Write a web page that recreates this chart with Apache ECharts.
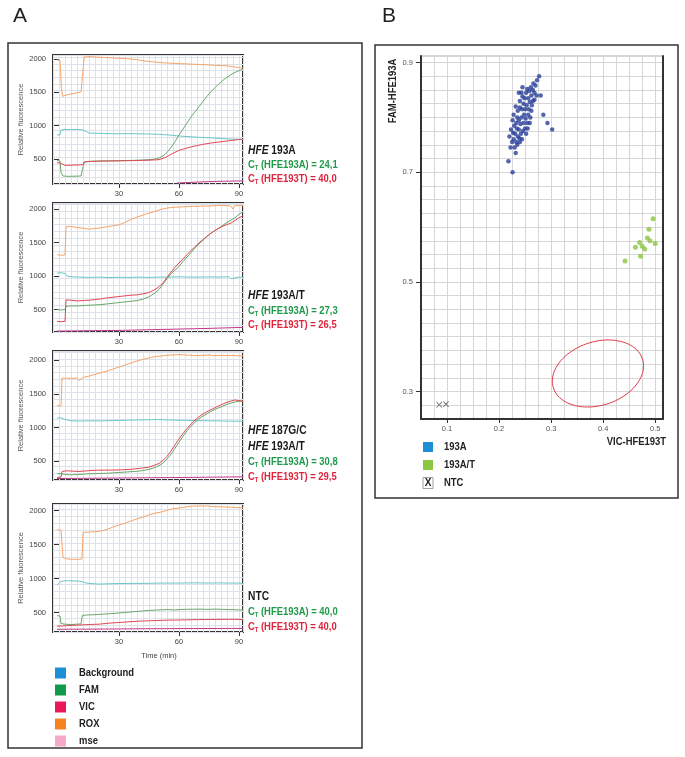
<!DOCTYPE html>
<html><head><meta charset="utf-8">
<script src="https://cdn.jsdelivr.net/npm/echarts@6/dist/echarts.min.js"></script>
<style>html,body{margin:0;padding:0;background:#fff}#c{width:685px;height:757px}</style>
</head><body><div id="c"></div>
<script>
// ---------- Panel A data: [time (min), relative fluorescence] ----------
const rox1 = [[-1,1985],[0.5,1980],[1.2,1560],[1.8,1440],[3,1455],[5,1470],[7,1480],[9,1495],[11,1505],[12,1515],[12.6,2030],[15,2035],[18,2030],[21,2025],[24,2020],[27,2015],[30,2010],[33,2005],[36,1998],[39,1990],[42,1975],[45,1962],[48,1955],[51,1945],[54,1940],[57,1935],[60,1930],[63,1928],[66,1922],[69,1920],[72,1915],[75,1912],[78,1905],[81,1900],[84,1898],[87,1885],[90,1870],[92,1862]];
const bg1 = [[-1,860],[0.5,862],[1,935],[3,945],[6,940],[9,945],[12,935],[13,905],[15,890],[20,885],[25,880],[30,878],[35,880],[40,878],[45,875],[50,870],[55,860],[60,845],[65,835],[70,825],[75,820],[80,810],[85,800],[90,795],[92,792]];
const fam1 = [[-1,475],[0.5,470],[1,300],[2,245],[5,240],[8,242],[11,245],[12,250],[12.6,455],[15,465],[20,470],[25,472],[30,475],[35,478],[40,482],[45,490],[48,500],[50,515],[52,545],[54,600],[56,670],[58,760],[60,860],[62,950],[64,1040],[66,1130],[68,1210],[70,1285],[72,1365],[74,1440],[76,1510],[78,1570],[80,1630],[82,1680],[84,1725],[86,1765],[88,1800],[90,1825],[92,1845]];
const vic1 = [[-1,445],[0.5,440],[1,415],[3,405],[6,408],[9,410],[12,415],[12.6,455],[15,462],[20,468],[25,470],[30,472],[35,475],[40,478],[45,482],[50,490],[53,520],[56,570],[60,630],[64,665],[68,695],[72,720],[76,740],[80,755],[84,770],[88,785],[92,800]];
const mse1 = [[59,140],[65,148],[70,155],[75,160],[80,165],[85,168],[92,172]];

const rox2 = [[-1,1320],[1,1310],[3,1315],[3.5,1735],[6,1740],[9,1725],[12,1715],[15,1700],[18,1710],[21,1720],[24,1735],[27,1750],[30,1765],[33,1800],[36,1845],[39,1880],[42,1910],[45,1940],[48,1965],[51,1995],[54,2015],[57,2025],[60,2030],[63,2035],[66,2040],[69,2040],[72,2045],[75,2045],[78,2050],[81,2055],[84,2052],[86,2040],[87,2000],[88,2050],[90,2055],[92,2050]];
const bg2 = [[-1,1045],[1,1050],[3,1040],[4,1000],[6,990],[10,985],[15,980],[20,985],[25,978],[30,982],[35,980],[40,985],[45,980],[50,985],[55,985],[60,990],[65,985],[70,985],[75,988],[80,985],[85,990],[86,960],[87,975],[90,985],[92,985]];
const fam2 = [[-1,500],[1,495],[3,500],[3.5,550],[6,555],[9,555],[12,560],[15,565],[18,570],[21,575],[24,585],[27,595],[30,605],[33,615],[36,625],[39,635],[42,655],[45,690],[48,750],[50,800],[52,880],[54,960],[56,1035],[58,1090],[60,1145],[62,1215],[64,1285],[66,1350],[68,1420],[70,1480],[72,1535],[74,1590],[76,1640],[78,1680],[80,1715],[82,1760],[84,1800],[86,1835],[88,1870],[90,1920],[92,1960]];
const vic2 = [[-1,325],[1,320],[3,325],[3.5,645],[6,640],[9,630],[12,635],[15,640],[18,650],[21,660],[24,675],[27,685],[30,695],[33,705],[36,715],[39,720],[42,735],[45,755],[48,800],[50,840],[52,900],[54,980],[56,1060],[58,1130],[60,1195],[62,1255],[64,1320],[66,1380],[68,1440],[70,1495],[72,1545],[74,1595],[76,1640],[78,1680],[80,1715],[82,1745],[84,1770],[86,1790],[88,1830],[90,1870],[92,1900]];
const mse2 = [[-1,180],[15,185],[30,190],[45,200],[60,210],[75,220],[92,235]];

const rox3 = [[-1,1330],[1,1320],[1.5,1735],[4,1735],[7,1730],[9,1740],[10,1700],[11,1705],[12,1745],[15,1765],[18,1790],[21,1815],[24,1840],[27,1870],[30,1900],[33,1930],[36,1960],[39,1990],[42,2015],[45,2035],[48,2055],[51,2065],[54,2075],[57,2080],[60,2085],[63,2080],[66,2075],[69,2070],[72,2075],[75,2080],[78,2070],[81,2075],[84,2070],[87,2072],[90,2068],[92,2070]];
const bg3 = [[-1,1140],[1,1145],[3,1120],[6,1100],[10,1095],[15,1100],[20,1098],[25,1102],[30,1105],[35,1110],[40,1112],[45,1115],[50,1118],[55,1112],[60,1108],[65,1105],[70,1102],[75,1100],[80,1098],[85,1095],[90,1092],[92,1095]];
const fam3 = [[-1,315],[1,310],[2,290],[5,295],[10,300],[15,310],[20,315],[25,320],[30,330],[35,340],[40,350],[45,375],[48,405],[50,430],[52,470],[54,530],[56,600],[58,690],[60,780],[62,870],[64,950],[66,1020],[68,1080],[70,1130],[72,1170],[74,1205],[76,1240],[78,1270],[80,1295],[82,1320],[84,1345],[86,1365],[88,1380],[90,1390],[92,1392]];
const vic3 = [[-1,255],[1,260],[1.5,345],[4,355],[7,350],[10,345],[13,352],[16,360],[20,365],[25,365],[30,368],[35,375],[40,390],[45,410],[48,440],[50,465],[52,510],[54,570],[56,650],[58,740],[60,830],[62,910],[64,985],[66,1050],[68,1110],[70,1160],[72,1200],[74,1235],[76,1265],[78,1295],[80,1325],[82,1350],[84,1375],[86,1395],[88,1410],[90,1400],[92,1395]];
const mse3 = [[-1,240],[20,245],[40,250],[60,255],[92,265]];

const rox4 = [[-1,1720],[1,1715],[2,1310],[4,1290],[7,1285],[10,1285],[11.5,1290],[12,1680],[15,1685],[18,1690],[21,1700],[24,1725],[27,1760],[30,1790],[33,1815],[36,1850],[39,1880],[42,1905],[45,1940],[48,1965],[51,1980],[54,2005],[57,2030],[60,2040],[63,2055],[66,2065],[69,2070],[72,2070],[75,2068],[78,2060],[81,2058],[84,2055],[87,2050],[90,2045],[92,2042]];
const bg4 = [[-1,905],[1,960],[3,970],[6,968],[9,965],[11,960],[13,940],[15,930],[20,920],[25,925],[30,928],[35,930],[40,930],[45,932],[50,935],[55,935],[60,935],[65,938],[70,938],[75,935],[80,938],[85,935],[90,935],[92,932]];
const fam4 = [[-1,455],[0.5,450],[1,340],[3,330],[6,325],[9,330],[11,335],[11.7,460],[14,465],[18,470],[22,478],[26,485],[30,495],[34,505],[38,515],[42,525],[46,535],[50,540],[54,545],[58,540],[62,548],[66,550],[70,552],[74,548],[78,552],[82,548],[86,545],[90,540],[92,538]];
const vic4 = [[-1,300],[5,310],[10,318],[15,325],[20,330],[25,345],[30,355],[35,365],[40,375],[45,380],[50,385],[55,390],[60,392],[65,395],[70,398],[75,400],[80,400],[85,402],[90,400],[92,398]];
const mse4 = [[-1,255],[20,258],[40,262],[60,265],[92,268]];

const timeTicks = [30, 60, 90];
const fluoTicks = [500, 1000, 1500, 2000];
const legendA = ['Background', 'FAM', 'VIC', 'ROX', 'mse'];
const annotations = [
  [['HFE', '193A']],
  [['HFE', '193A/T']],
  [['HFE', '187G/C'], ['HFE', '193A/T']],
  [['', 'NTC']]
];
const ctA = ['24,1', '27,3', '30,8', '40,0'];
const ctT = ['40,0', '26,5', '29,5', '40,0'];

// ---------- Panel B data: [VIC-HFE193T, FAM-HFE193A] ----------
const pts193A = [[0.218,0.720],[0.226,0.700],[0.222,0.745],[0.225,0.755],[0.220,0.765],[0.228,0.760],[0.230,0.745],[0.232,0.735],[0.235,0.750],[0.223,0.778],[0.227,0.772],[0.231,0.770],[0.236,0.765],[0.238,0.778],[0.229,0.785],[0.233,0.790],[0.240,0.755],[0.242,0.770],[0.244,0.760],[0.246,0.775],[0.235,0.800],[0.238,0.795],[0.241,0.788],[0.243,0.800],[0.247,0.790],[0.250,0.780],[0.252,0.770],[0.248,0.805],[0.251,0.798],[0.254,0.790],[0.256,0.805],[0.236,0.812],[0.240,0.818],[0.244,0.815],[0.247,0.825],[0.250,0.815],[0.253,0.822],[0.257,0.815],[0.260,0.800],[0.262,0.812],[0.240,0.830],[0.245,0.838],[0.249,0.835],[0.252,0.845],[0.256,0.835],[0.259,0.828],[0.262,0.840],[0.265,0.830],[0.238,0.845],[0.254,0.852],[0.258,0.848],[0.261,0.855],[0.265,0.850],[0.268,0.845],[0.270,0.858],[0.273,0.868],[0.277,0.875],[0.266,0.862],[0.243,0.845],[0.232,0.820],[0.228,0.805],[0.226,0.795],[0.234,0.780],[0.255,0.780],[0.259,0.790],[0.263,0.822],[0.268,0.832],[0.272,0.840],[0.285,0.805],[0.293,0.790],[0.302,0.778],[0.280,0.840],[0.245,0.855],[0.239,0.762],[0.233,0.755]];
const pts193AT = [[0.496,0.615],[0.488,0.596],[0.470,0.572],[0.490,0.575],[0.500,0.570],[0.462,0.563],[0.480,0.560],[0.475,0.565],[0.472,0.547],[0.442,0.538],[0.485,0.580]];
const ptsNTC = [[0.085,0.276],[0.098,0.277]];
const ntcEllipse = [[0.39, 0.333, 0.09, 0.058, 18]]; // centre x, centre y, semi-axis x, semi-axis y, tilt (deg)
const vicTicks = [0.1, 0.2, 0.3, 0.4, 0.5];
const famTicks = [0.3, 0.5, 0.7, 0.9];
const legendB = ['193A', '193A/T', 'NTC'];

// ---------- build ----------
const FONT = "'Liberation Sans', Arial, sans-serif";
const NX = 0.82; // horizontal squeeze to mimic the narrow typeface
const lineColors = {bg:'#6cc6c8', fam:'#6aa86c', vic:'#df4a58', rox:'#f5a56c', mse:'#c2388c'};
const legendColors = ['#1e8fd6', '#0f9a4c', '#e8185a', '#f5841f', '#f5aacb'];
const GREEN = '#1f9a4a', RED = '#e0243c';
const GRIDLINE = '#dde2ea';
const TICKFONT = 7.5;

const plots = [
  {top:55, height:129, min:125, max:2060, s:{rox:rox1, bg:bg1, fam:fam1, vic:vic1, mse:mse1}},
  {top:203, height:129, min:166, max:2090, s:{rox:rox2, bg:bg2, fam:fam2, vic:vic2, mse:mse2}},
  {top:351, height:129, min:218, max:2139, s:{rox:rox3, bg:bg3, fam:fam3, vic:vic3, mse:mse3}},
  {top:504, height:128, min:215, max:2099, s:{rox:rox4, bg:bg4, fam:fam4, vic:vic4, mse:mse4}}
];

const grid = [], xAxis = [], yAxis = [], series = [], graphic = [];
const hiddenX = [], hiddenY = [];
plots.forEach((p, i) => {
  grid.push({left:53, top:p.top, width:190, height:p.height, show:true, borderColor:'#333', borderWidth:2, backgroundColor:'#fff'});
  xAxis.push({type:'value', gridIndex:i, min:-3, max:92,
    axisLine:{show:false},
    axisTick:{show:true, customValues:timeTicks, length:4, lineStyle:{color:'#333'}},
    axisLabel:{customValues:timeTicks, fontSize:TICKFONT, color:'#444', margin:6, fontFamily:FONT},
    splitLine:{show:false}});
  yAxis.push({type:'value', gridIndex:i, min:p.min, max:p.max,
    name:'Relative fluorescence', nameLocation:'middle', nameGap:27, nameRotate:90,
    nameTextStyle:{fontSize:TICKFONT, color:'#555', fontFamily:FONT},
    axisLine:{show:false},
    axisTick:{show:true, customValues:fluoTicks, length:5, lineStyle:{color:'#333'}},
    axisLabel:{customValues:fluoTicks, fontSize:TICKFONT, color:'#444', margin:7, fontFamily:FONT, formatter:v=>String(v)},
    splitLine:{show:false}});
  // dense background grid
  hiddenX.push({type:'value', gridIndex:i, position:'top', min:-3, max:92, interval:3,
    axisLine:{show:false}, axisTick:{show:false}, axisLabel:{show:false},
    splitLine:{show:true, lineStyle:{color:GRIDLINE, width:1}}});
  hiddenY.push({type:'value', gridIndex:i, position:'right', min:p.min, max:p.max, interval:100,
    axisLine:{show:false}, axisTick:{show:false}, axisLabel:{show:false},
    splitLine:{show:true, lineStyle:{color:GRIDLINE, width:1}}});
  ['rox','bg','fam','vic','mse'].forEach(k => {
    series.push({type:'line', xAxisIndex:i, yAxisIndex:i, data:p.s[k], showSymbol:false, symbol:'none',
      lineStyle:{color:lineColors[k], width:1}, clip:true, silent:true, animation:false, z:3});
  });
});

// Panel B
const gB = plots.length;
const bX = {min:0.05, max:0.515}, bY = {min:0.25, max:0.912};
grid.push({left:421, top:56, width:242, height:363, show:true, borderColor:'#aaa', borderWidth:1, backgroundColor:'#fff'});
xAxis.push({type:'value', gridIndex:gB, min:bX.min, max:bX.max,
  axisLine:{show:true, onZero:false, lineStyle:{color:'#333', width:2}},
  axisTick:{show:true, customValues:vicTicks, length:4, lineStyle:{color:'#333'}},
  axisLabel:{customValues:vicTicks, fontSize:TICKFONT, color:'#555', margin:6, fontFamily:FONT, formatter:v=>v.toFixed(1)},
  splitLine:{show:false}});
yAxis.push({type:'value', gridIndex:gB, min:bY.min, max:bY.max,
  axisLine:{show:true, onZero:false, lineStyle:{color:'#333', width:2}},
  axisTick:{show:true, customValues:famTicks, length:5, lineStyle:{color:'#333'}},
  axisLabel:{customValues:famTicks, fontSize:TICKFONT, color:'#555', margin:8, fontFamily:FONT, formatter:v=>v.toFixed(1)},
  splitLine:{show:false}});
hiddenX.push({type:'value', gridIndex:gB, position:'top', min:bX.min, max:bX.max, interval:0.025,
  axisLine:{show:false}, axisTick:{show:false}, axisLabel:{show:false},
  splitLine:{show:true, lineStyle:{color:'#d6d6d6', width:1}}});
hiddenY.push({type:'value', gridIndex:gB, position:'right', min:bY.min, max:bY.max, interval:0.025,
  axisLine:{show:true, onZero:false, lineStyle:{color:'#333', width:2}}, axisTick:{show:false}, axisLabel:{show:false},
  splitLine:{show:true, lineStyle:{color:'#d6d6d6', width:1}}});

xAxis.push(...hiddenX);
yAxis.push(...hiddenY);

series.push({type:'scatter', xAxisIndex:gB, yAxisIndex:gB, data:pts193A, symbolSize:4.5,
  itemStyle:{color:'#2b3f99'}, animation:false, z:4});
series.push({type:'scatter', xAxisIndex:gB, yAxisIndex:gB, data:pts193AT, symbolSize:5,
  itemStyle:{color:'#8dc63f'}, animation:false, z:4});
series.push({type:'scatter', xAxisIndex:gB, yAxisIndex:gB, data:ptsNTC, symbolSize:6,
  symbol:'path://M0,1 L1,0 L5,4 L9,0 L10,1 L6,5 L10,9 L9,10 L5,6 L1,10 L0,9 L4,5 Z',
  itemStyle:{color:'#444'}, animation:false, z:4});
series.push({type:'custom', xAxisIndex:gB, yAxisIndex:gB, data:ntcEllipse, animation:false, silent:true, z:4,
  renderItem:(params, api) => {
    const c = api.coord([api.value(0), api.value(1)]);
    const rx = api.size([api.value(2), 0])[0];
    const ry = api.size([0, api.value(3)])[1];
    const th = api.value(4) * Math.PI / 180;
    const pts = [];
    for (let k = 0; k <= 90; k++) {
      const t = k / 90 * 2 * Math.PI;
      const ex = rx * Math.cos(t), ey = ry * Math.sin(t);
      pts.push([c[0] + ex * Math.cos(th) - ey * Math.sin(th), c[1] - (ex * Math.sin(th) + ey * Math.cos(th))]);
    }
    return {type:'polyline', shape:{points:pts}, style:{fill:'none', stroke:'#e23a46', lineWidth:1}};
  }});

// ---------- static graphics: frames, labels, legends ----------
graphic.push({type:'rect', shape:{x:8, y:43, width:354, height:705}, style:{fill:'none', stroke:'#333', lineWidth:1.5}, z:-1});
graphic.push({type:'rect', shape:{x:375, y:45, width:303, height:453}, style:{fill:'none', stroke:'#333', lineWidth:1.5}, z:-1});
graphic.push({type:'text', x:13, y:6, style:{text:'A', font:'21px '+FONT, fill:'#222'}});
graphic.push({type:'text', x:382, y:6, style:{text:'B', font:'21px '+FONT, fill:'#222'}});

const annY = [[151,165,179],[296,311,325],[431,447,462,477],[597,612,627]];
annotations.forEach((lines, i) => {
  const ys = annY[i];
  lines.forEach((ln, j) => {
    graphic.push({type:'text', x:248, y:ys[j], scaleX:NX, style:{
      text: ln[0] ? '{i|' + ln[0] + '} {b|' + ln[1] + '}' : '{b|' + ln[1] + '}',
      verticalAlign:'middle',
      rich:{i:{fontFamily:FONT, fontSize:12.5, fontWeight:'bold', fontStyle:'italic', fill:'#1a1a1a'},
            b:{fontFamily:FONT, fontSize:12.5, fontWeight:'bold', fill:'#1a1a1a'}}}});
  });
  const n = lines.length;
  [[ys[n], 'HFE193A', ctA[i], GREEN], [ys[n+1], 'HFE193T', ctT[i], RED]].forEach(([y, g, v, col]) => {
    graphic.push({type:'text', x:248, y:y, scaleX:NX, style:{
      text:'{c|C}{s|T}{c| (' + g + ') = ' + v + '}', verticalAlign:'middle',
      rich:{c:{fontFamily:FONT, fontSize:11.5, fontWeight:'bold', fill:col, lineHeight:13},
            s:{fontFamily:FONT, fontSize:7, fontWeight:'bold', fill:col, lineHeight:13, verticalAlign:'bottom', padding:[5,0,0,0]}}}});
  });
});

graphic.push({type:'text', x:159, y:656, style:{text:'Time (min)', font:TICKFONT+'px '+FONT, fill:'#444', align:'center', verticalAlign:'middle'}});
legendA.forEach((name, i) => {
  const y = 673 + i * 17;
  graphic.push({type:'rect', shape:{x:55, y:y-5.5, width:11, height:11}, style:{fill:legendColors[i]}});
  graphic.push({type:'text', x:79, y:y, scaleX:NX, style:{text:name, font:'bold 11.5px '+FONT, fill:'#222', verticalAlign:'middle'}});
});

graphic.push({type:'text', x:393, y:91, rotation:Math.PI/2, scaleX:NX, style:{text:'FAM-HFE193A', font:'bold 11.5px '+FONT, fill:'#222', align:'center', verticalAlign:'middle'}});
graphic.push({type:'text', x:666, y:442, scaleX:NX, style:{text:'VIC-HFE193T', font:'bold 11.5px '+FONT, fill:'#222', align:'right', verticalAlign:'middle'}});
const legBColors = ['#1e8fd6', '#8dc63f'];
legendB.forEach((name, i) => {
  const y = 447 + i * 18;
  if (i < 2) {
    graphic.push({type:'rect', shape:{x:423, y:y-5, width:10, height:10}, style:{fill:legBColors[i]}});
  } else {
    graphic.push({type:'rect', shape:{x:423, y:y-5.5, width:10, height:11}, style:{fill:'#fff', stroke:'#888', lineWidth:0.8}});
    graphic.push({type:'text', x:428, y:y, style:{text:'X', font:'bold 10px '+FONT, fill:'#222', align:'center', verticalAlign:'middle'}});
  }
  graphic.push({type:'text', x:444, y:y, scaleX:NX, style:{text:name, font:'bold 11.5px '+FONT, fill:'#222', verticalAlign:'middle'}});
});

const chart = echarts.init(document.getElementById('c'), null, {renderer:'canvas'});
chart.setOption({animation:false, backgroundColor:'#fff', textStyle:{fontFamily:FONT},
  grid, xAxis, yAxis, series, graphic});
</script></body></html>
